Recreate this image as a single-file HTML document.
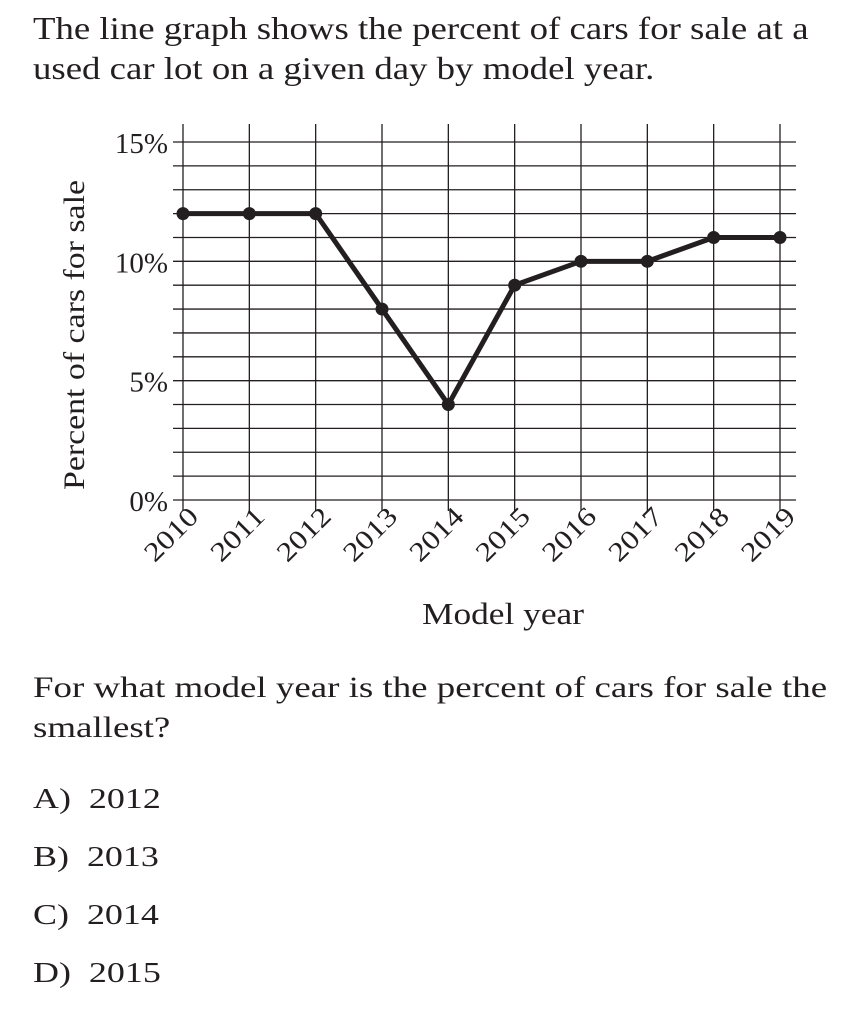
<!DOCTYPE html>
<html><head><meta charset="utf-8"><style>
body{margin:0;background:#fff;width:858px;height:1032px;overflow:hidden;font-family:"Liberation Serif",serif;color:#231f20}
.t{position:absolute;left:33px;font-size:32px;line-height:40px;margin:0;transform-origin:0 0;white-space:nowrap}
.opt{position:absolute;left:33px;font-size:29px;transform:scaleX(1.24);transform-origin:0 0;white-space:nowrap}
</style></head><body>
<p class="t" style="top:8px;transform:scaleX(1.15)">The line graph shows the percent of cars for sale at a<br>used car lot on a given day by model year.</p>
<svg id="chart" width="858" height="640" style="position:absolute;left:0;top:0" font-family="Liberation Serif, serif"></svg>
<p class="t" style="top:668px;font-size:30px;transform:scaleX(1.23)">For what model year is the percent of cars for sale the<br>smallest?</p>
<div class="opt" style="top:783px">A)&nbsp; 2012</div>
<div class="opt" style="top:841px">B)&nbsp; 2013</div>
<div class="opt" style="top:899px">C)&nbsp; 2014</div>
<div class="opt" style="top:957px">D)&nbsp; 2015</div>
<script>
const years=[2010,2011,2012,2013,2014,2015,2016,2017,2018,2019];
const percents=[12,12,12,8,4,9,10,10,11,11];
const yTicks=[0,5,10,15];
const svg=document.getElementById('chart');
const NS='http://www.w3.org/2000/svg';
const x0=183,x1=780,y0=500,y1=142;
const X=i=>x0+(x1-x0)*i/(years.length-1);
const Y=v=>y0-(y0-y1)*v/15;
function mk(t,a){const e=document.createElementNS(NS,t);for(const k in a)e.setAttribute(k,a[k]);svg.appendChild(e);return e;}
for(let v=0;v<=15;v++){
  const l=mk('line',{x1:173,x2:796,y1:Y(v),y2:Y(v),stroke:'#231f20','stroke-width':1.3});
  
  
}
years.forEach((yr,i)=>{
  const l=mk('line',{x1:X(i),x2:X(i),y1:124,y2:511,stroke:'#231f20','stroke-width':1.3});
  
  
  const t=mk('text',{x:X(i)+17,y:518,'font-size':27,'text-anchor':'end',textLength:64,lengthAdjust:'spacingAndGlyphs',transform:`rotate(-45 ${X(i)+17} 518)`,fill:'#231f20'});
  t.textContent=yr;
  
  
});
yTicks.forEach(v=>{
  const t=mk('text',{x:168,y:Y(v)+11,'font-size':29,'text-anchor':'end',fill:'#231f20'});
  t.textContent=v+'%';
  
  
});
const p=mk('polyline',{points:percents.map((v,i)=>X(i)+','+Y(v)).join(' '),fill:'none',stroke:'#231f20','stroke-width':5,'stroke-linejoin':'miter'});


percents.forEach((v,i)=>{
  const c=mk('circle',{cx:X(i),cy:Y(v),r:6.5,fill:'#231f20'});
  
  
});
const xt=mk('text',{x:422,y:624,'font-size':31,textLength:162,lengthAdjust:'spacingAndGlyphs',fill:'#231f20'});
xt.textContent='Model year';


const yt=mk('text',{x:84,y:335,'font-size':30,'text-anchor':'middle',textLength:310,lengthAdjust:'spacingAndGlyphs',transform:'rotate(-90 84 335)',fill:'#231f20'});
yt.textContent='Percent of cars for sale';


</script>
</body></html>
